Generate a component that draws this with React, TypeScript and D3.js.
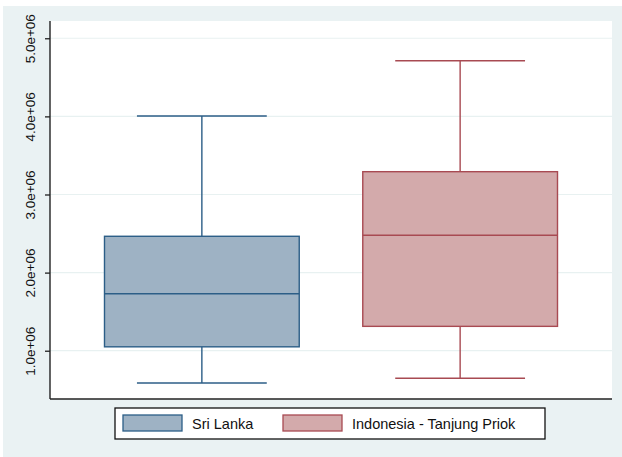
import { useEffect, useRef } from 'react';
import * as d3 from 'd3';

const categories = ['Sri Lanka', 'Indonesia - Tanjung Priok'];
const lowerWhisker = [0.586e6, 0.647e6];
const q1 = [1.05e6, 1.312e6];
const median = [1.73e6, 2.478e6];
const q3 = [2.465e6, 3.292e6];
const upperWhisker = [4.005e6, 4.713e6];
const tickValues = [1e6, 2e6, 3e6, 4e6, 5e6];
const tickLabels = ['1.0e+06', '2.0e+06', '3.0e+06', '4.0e+06', '5.0e+06'];
const fills = ['#9eb2c4', '#d3aaab'];
const strokes = ['#2c5e87', '#a84a52'];

const W = 622;
const H = 457;
const FONT = '"Liberation Sans", Arial, Helvetica, sans-serif';

export default function App() {
  const svgRef = useRef<SVGSVGElement>(null);

  useEffect(() => {
    if (!svgRef.current) return;
    const svg = d3.select(svgRef.current);
    svg.selectAll('*').remove();

    const plot = { left: 50, right: 612, top: 21, bottom: 399 };

    // outer graph region
    svg.append('rect').attr('x', 3).attr('y', 6).attr('width', W - 3).attr('height', H - 6).attr('fill', '#eaf2f3');
    svg.append('rect')
      .attr('x', plot.left).attr('y', plot.top)
      .attr('width', plot.right - plot.left).attr('height', plot.bottom - plot.top)
      .attr('fill', '#ffffff');

    const y = d3.scaleLinear().domain([0.382e6, 5.221e6]).range([plot.bottom, plot.top]);
    const x = d3.scaleBand<string>()
      .domain(categories)
      .range([plot.left, plot.right])
      .paddingInner(0.246)
      .paddingOuter(0.211);

    // grid
    svg.append('g')
      .selectAll('line')
      .data(tickValues)
      .enter()
      .append('line')
      .attr('x1', plot.left).attr('x2', plot.right)
      .attr('y1', d => y(d)).attr('y2', d => y(d))
      .attr('stroke', '#e8f1f1')
      .attr('stroke-width', 1.2);

    // boxes
    const bw = x.bandwidth();
    categories.forEach((c, i) => {
      const x0 = x(c)!;
      const cx = x0 + bw / 2;
      const g = svg.append('g');
      const sw = 1.4;
      g.append('line').attr('x1', cx).attr('x2', cx)
        .attr('y1', y(q3[i])).attr('y2', y(upperWhisker[i]))
        .attr('stroke', strokes[i]).attr('stroke-width', sw);
      g.append('line').attr('x1', cx).attr('x2', cx)
        .attr('y1', y(q1[i])).attr('y2', y(lowerWhisker[i]))
        .attr('stroke', strokes[i]).attr('stroke-width', sw);
      [upperWhisker[i], lowerWhisker[i]].forEach(v => {
        g.append('line')
          .attr('x1', cx - bw / 3).attr('x2', cx + bw / 3)
          .attr('y1', y(v)).attr('y2', y(v))
          .attr('stroke', strokes[i]).attr('stroke-width', sw);
      });
      g.append('rect')
        .attr('x', x0).attr('y', y(q3[i]))
        .attr('width', bw).attr('height', y(q1[i]) - y(q3[i]))
        .attr('fill', fills[i])
        .attr('stroke', strokes[i]).attr('stroke-width', sw);
      g.append('line')
        .attr('x1', x0).attr('x2', x0 + bw)
        .attr('y1', y(median[i])).attr('y2', y(median[i]))
        .attr('stroke', strokes[i]).attr('stroke-width', sw);
    });

    // axes
    const yAxis = d3.axisLeft(y)
      .tickValues(tickValues)
      .tickSize(5)
      .tickFormat((_, i) => tickLabels[i]);
    const ya = svg.append('g').attr('transform', `translate(${plot.left},0)`).call(yAxis);
    ya.select('.domain').remove();
    ya.selectAll('.tick line').attr('stroke', '#222').attr('stroke-width', 1.3);
    ya.selectAll('.tick text')
      .attr('x', 0).attr('y', 0)
      .attr('dy', null)
      .attr('transform', 'translate(-15,0) rotate(-90)')
      .attr('text-anchor', 'middle')
      .attr('font-family', FONT)
      .attr('font-size', 13.5)
      .attr('textLength', 49)
      .attr('lengthAdjust', 'spacingAndGlyphs')
      .attr('fill', '#111');

    svg.append('line').attr('x1', plot.left).attr('x2', plot.left)
      .attr('y1', plot.top).attr('y2', plot.bottom)
      .attr('stroke', '#222').attr('stroke-width', 1.4);
    svg.append('line').attr('x1', plot.left).attr('x2', plot.right)
      .attr('y1', plot.bottom).attr('y2', plot.bottom)
      .attr('stroke', '#222').attr('stroke-width', 1.4);

    // legend
    const lg = svg.append('g');
    lg.append('rect').attr('x', 115).attr('y', 408).attr('width', 430).attr('height', 31)
      .attr('fill', '#ffffff').attr('stroke', '#111').attr('stroke-width', 1.3);
    const keyX = [123, 283];
    categories.forEach((c, i) => {
      lg.append('rect').attr('x', keyX[i]).attr('y', 415)
        .attr('width', 59).attr('height', 16)
        .attr('fill', fills[i]).attr('stroke', strokes[i]).attr('stroke-width', 1.3);
      lg.append('text').attr('x', keyX[i] + 69).attr('y', 428.5)
        .attr('font-family', FONT).attr('font-size', 14.5).attr('fill', '#111')
        .text(c);
    });
  }, []);

  return (
    <svg
      ref={svgRef}
      width={W}
      height={H}
      style={{ position: 'absolute', left: 0, top: 0, background: '#ffffff' }}
    />
  );
}
